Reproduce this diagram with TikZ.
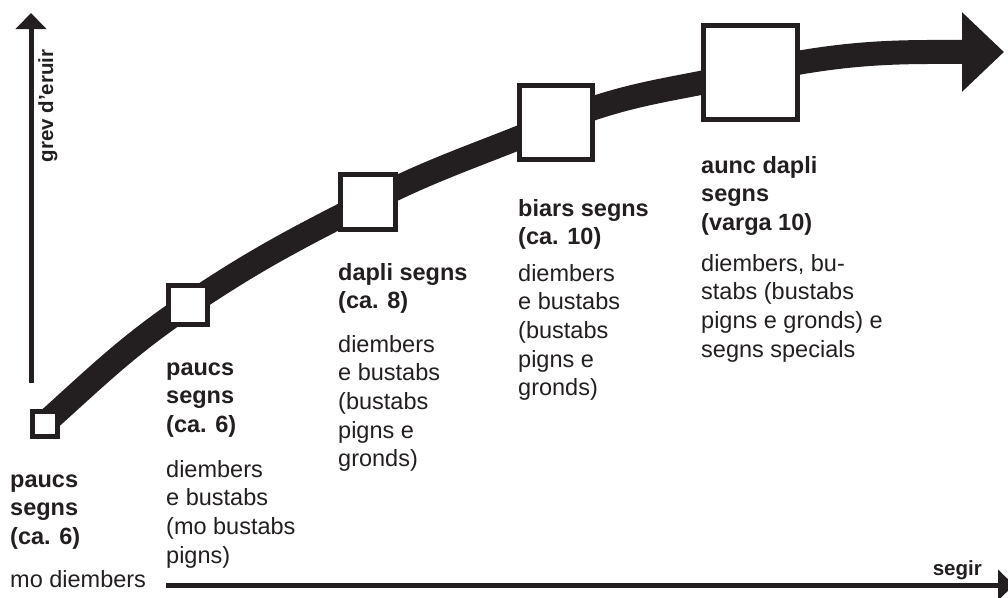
\documentclass[tikz,border=0pt]{standalone}
\usepackage{fontspec}
\setmainfont{Liberation Sans}
\usetikzlibrary{arrows.meta,positioning,backgrounds}
\definecolor{ink}{RGB}{35,31,32}
\tikzset{
  stage/.style={draw=ink,fill=white,line width=5pt,inner sep=0pt,minimum size=#1},
  heading/.style={anchor=base west,inner sep=0pt,align=left,text=ink,font=\fontsize{23.5}{28.7}\selectfont\bfseries},
  detail/.style={anchor=base west,inner sep=0pt,align=left,text=ink,font=\fontsize{23.5}{28.7}\selectfont},
  axis/.style={draw=ink,line width=5pt,-{Triangle[length=16pt,width=30pt]}},
  axislabel/.style={inner sep=0pt,text=ink,font=\fontsize{20.5}{24}\selectfont\bfseries},
  growth/.style={draw=ink,line width=24pt,-{Triangle[length=42pt,width=77pt]}}
}

\begin{document}
\begin{tikzpicture}[x=1pt,y=-1pt]
  \useasboundingbox (0,0) rectangle (1008,597);

  % axes
  \coordinate (yfoot) at (31,383);
  \coordinate (ytop)  at (31,13);
  \coordinate (xfoot) at (166,585);
  \coordinate (xtip)  at (1014,585);
  \draw[axis] (yfoot) -- (ytop);
  \draw[axis] (xfoot) -- (xtip);
  \node[axislabel,rotate=90,anchor=base] (grev) at (53,106) {grev d’eruir};
  \node[axislabel,anchor=base east] (segir) at (982,575) {segir};

  % stages
  \node[stage=25pt]   (s1) at (44.5,423.5) {};
  \node[stage=39pt]   (s2) at (188,305) {};
  \node[stage=55pt]   (s3) at (368,202) {};
  \node[stage=73.5pt] (s4) at (556,122.5) {};
  \node[stage=94pt]   (s5) at (750.5,72.5) {};
  \coordinate (tip) at (1004,52);

  \begin{scope}[on background layer]
    \draw[growth] (s1.center) to[out=42,in=214] (s2.center)
      to[out=34,in=207] (s3.center) to[out=27,in=203] (s4.center)
      to[out=23,in=193] (s5.center) to[out=13,in=180] (tip);
  \end{scope}

  % texts (anchored at the baseline of the last line)
  \node[heading] (h1) at (10,544.4)  {paucs\\segns\\(ca. 6)};
  \node[detail]  (d1) at (10,587)    {mo diembers};
  \node[heading] (h2) at (166,432.4) {paucs\\segns\\(ca. 6)};
  \node[detail]  (d2) at (166,563.1) {diembers\\e bustabs\\(mo bustabs\\pigns)};
  \node[heading] (h3) at (338,308.7) {dapli segns\\(ca. 8)};
  \node[detail]  (d3) at (338,466.8) {diembers\\e bustabs\\(bustabs\\pigns e\\gronds)};
  \node[heading] (h4) at (518,244.7) {biars segns\\(ca. 10)};
  \node[detail]  (d4) at (518,395.8) {diembers\\e bustabs\\(bustabs\\pigns e\\gronds)};
  \node[heading] (h5) at (701,230.4) {aunc dapli\\segns\\(varga 10)};
  \node[detail]  (d5) at (701,357.1) {diembers, bu-\\stabs (bustabs\\pigns e gronds) e\\segns specials};
\end{tikzpicture}
\end{document}
